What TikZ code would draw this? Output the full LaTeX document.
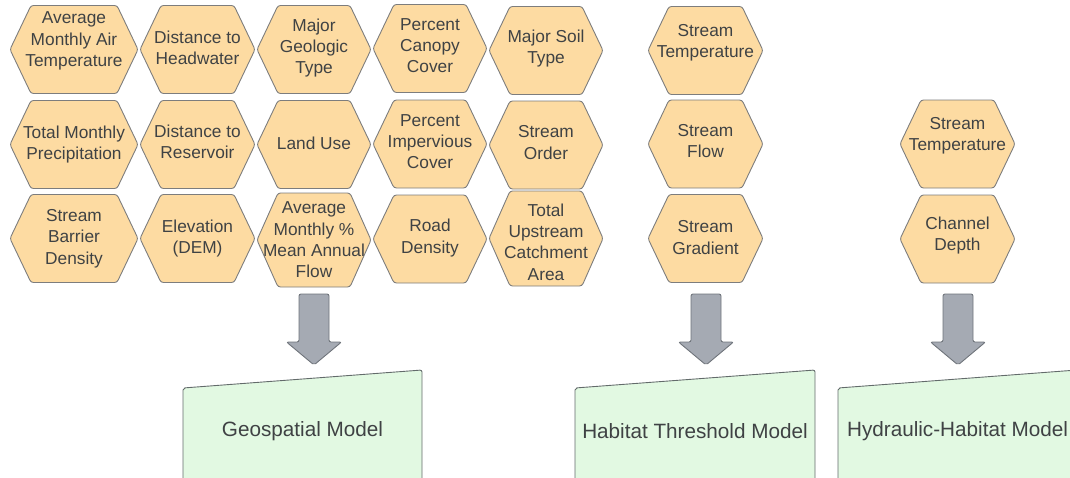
\documentclass[tikz,border=0pt]{standalone}
\usepackage{fontspec}
\setmainfont{Liberation Sans}

\definecolor{hexfill}{HTML}{FDDBA2}
\definecolor{hexline}{HTML}{7D7D7D}
\definecolor{modfill}{HTML}{E2F9E2}
\definecolor{modline}{HTML}{636B6B}
\definecolor{arrfill}{HTML}{A5AAB3}
\definecolor{arrline}{HTML}{6F747B}
\definecolor{txt}{HTML}{3F4244}

% hexagon: [text shift], name, x, y, half width, half height, text
\newcommand{\hexa}[7][0]{%
	\path[hexshape] (#3-#5,#4) -- (#3-#5+21,#4-#6) -- (#3+#5-21,#4-#6)
	-- (#3+#5,#4) -- (#3+#5-21,#4+#6) -- (#3-#5+21,#4+#6) -- cycle;
	\node[hextext] (#2) at (#3,#4+#1) {#7};}

% model box: name, left x, right x, text
\newcommand{\model}[4]{%
	\path[modshape] (#2,388) -- (#3,370) -- (#3,500) -- (#2,500) -- cycle;
	\node[modtext] (#1) at ({(#2+#3)/2},431) {#4};}

% block arrow: name, x of centre line
\newcommand{\blockarr}[2]{%
	\coordinate (#1) at (#2,294);
	\path[arrshape] (#2-15,294) -- (#2+15,294) -- (#2+15,342) -- (#2+27.5,342)
	-- (#2,365) -- (#2-27.5,342) -- (#2-15,342) -- cycle;}

\begin{document}
\begin{tikzpicture}[x=1pt,y=-1pt]
	% styles
	\tikzstyle{hexshape}=[draw=hexline,fill=hexfill,line width=0.9pt,rounded corners=2.5pt]
	\tikzstyle{hextext}=[text=txt,align=center,inner sep=0pt,font=\fontsize{17.3}{21.3}\selectfont]
	\tikzstyle{modshape}=[draw=modline,fill=modfill,line width=0.9pt,rounded corners=2pt]
	\tikzstyle{modtext}=[text=txt,inner sep=0pt,font=\fontsize{20.7}{25}\selectfont]
	\tikzstyle{arrshape}=[draw=arrline,fill=arrfill,line width=0.9pt,rounded corners=2pt]
	
	% bounding box
	\useasboundingbox (0,0) rectangle (1070,477);
	\clip (0,0) rectangle (1070,477);
	
	% geospatial inputs, first row
	\hexa[-8.5]{airtemp}{74}{49.5}{64}{44}{Average\\Monthly Air\\Temperature}
	\hexa[-2]{headwater}{197.5}{49.5}{57.5}{44}{Distance to\\Headwater}
	\hexa[-1.5]{geology}{314}{49.5}{57}{44}{Major\\Geologic\\Type}
	\hexa[-3]{canopy}{430}{48.5}{57}{44}{Percent\\Canopy\\Cover}
	\hexa[-2]{soil}{546}{50.5}{57}{44}{Major Soil\\Type}
	
	% geospatial inputs, second row
	\hexa{precip}{74}{144.5}{64}{44}{Total Monthly\\Precipitation}
	\hexa[-3]{reservoir}{197.5}{144.5}{57.5}{44}{Distance to\\Reservoir}
	\hexa[-1]{landuse}{314}{144.5}{57}{44}{Land Use}
	\hexa[-2.5]{impervious}{430}{144}{57}{44}{Percent\\Impervious\\Cover}
	\hexa[-2.5]{order}{546}{145}{57}{44}{Stream\\Order}
	
	% geospatial inputs, third row
	\hexa{barrier}{74}{238.5}{64}{44}{Stream\\Barrier\\Density}
	\hexa{elevation}{197.5}{238.5}{57.5}{44}{Elevation\\(DEM)}
	\hexa{meanflow}{314}{240}{57}{47}{Average\\Monthly \%\\Mean Annual\\Flow}
	\hexa[-1]{road}{430}{239}{57}{44}{Road\\Density}
	\hexa[3.5]{catchment}{546}{238.5}{57}{47.5}{Total\\Upstream\\Catchment\\Area}
	
	% habitat threshold inputs
	\hexa[-8]{thtemp}{705.5}{50.5}{57.5}{44}{Stream\\Temperature}
	\hexa[-3]{thflow}{705.5}{144}{57.5}{44}{Stream\\Flow}
	\hexa[-1]{thgrad}{705.5}{238.5}{57.5}{44}{Stream\\Gradient}
	
	% hydraulic-habitat inputs
	\hexa[-8]{hhtemp}{957.5}{144}{57.5}{44}{Stream\\Temperature}
	\hexa[-3.5]{hhdepth}{957.5}{239}{57.5}{44}{Channel\\Depth}
	
	% arrows
	\blockarr{geoarr}{314}
	\blockarr{tharr}{706}
	\blockarr{hharr}{958}
	
	% models
	\model{geo}{183}{422}{Geospatial Model}
	\model{thresh}{575}{815}{Habitat Threshold Model}
	\model{hydro}{838}{1077}{Hydraulic-Habitat Model}
\end{tikzpicture}
\end{document}
